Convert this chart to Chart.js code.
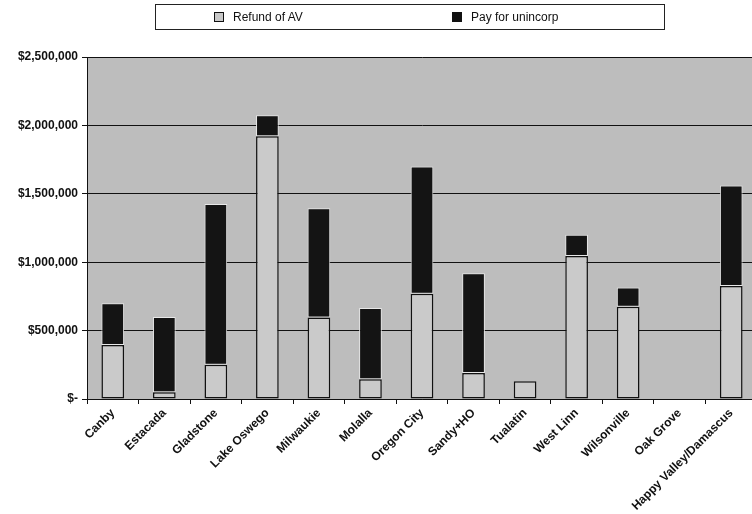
<!DOCTYPE html>
<html>
<head>
<meta charset="utf-8">
<script src="https://cdn.jsdelivr.net/npm/chart.js@4.4.0/dist/chart.umd.min.js"></script>
<style>
  html, body { margin:0; padding:0; background:#fff; overflow:hidden; }
  #wrap { position:relative; width:752px; height:514px; overflow:hidden; }
  #cv { position:absolute; left:0; top:0; }
  #legend { position:absolute; left:155px; top:4px; width:510px; height:26px; border:1px solid #222; box-sizing:border-box;
            font-family:"Liberation Sans", Arial, sans-serif; font-size:12px; color:#111; }
  .li { position:absolute; top:5px; white-space:nowrap; }
  .sw { display:inline-block; width:8px; height:8px; border:1px solid #111; margin-right:9px; vertical-align:-1px; }
</style>
</head>
<body>
<div id="wrap">
  <canvas id="cv" width="757" height="514"></canvas>
  <div id="legend">
    <span class="li" style="left:58px"><span class="sw" style="background:#c8c8c8"></span>Refund of AV</span>
    <span class="li" style="left:296px"><span class="sw" style="background:#111"></span>Pay for unincorp</span>
  </div>
</div>
<script>
const categories = ["Canby","Estacada","Gladstone","Lake Oswego","Milwaukie","Molalla","Oregon City","Sandy+HO","Tualatin","West Linn","Wilsonville","Oak Grove","Happy Valley/Damascus"];
const refundOfAV = [395000, 50000, 250000, 1920000, 595000, 145000, 770000, 190000, 130000, 1045000, 675000, 0, 826000];
const payForUnincorp = [305000, 550000, 1175000, 155000, 800000, 520000, 930000, 730000, 0, 155000, 140000, 0, 734000];
const yTickLabels = {0:"$-", 500000:"$500,000", 1000000:"$1,000,000", 1500000:"$1,500,000", 2000000:"$2,000,000", 2500000:"$2,500,000"};

const plotBg = {
  id:'plotBg',
  beforeDraw(chart){
    const {ctx, chartArea:a} = chart;
    ctx.save();
    ctx.fillStyle = '#bdbdbd';
    ctx.fillRect(a.left, a.top, a.right - a.left, a.bottom - a.top);
    ctx.restore();
  }
};

const font = {family:'"Liberation Sans", Arial, sans-serif', size:12, weight:'bold'};

new Chart(document.getElementById('cv'), {
  type:'bar',
  data:{
    labels: categories,
    datasets:[
      {label:'Refund of AV', data: refundOfAV, backgroundColor:'#cacaca', borderColor:'#111', borderWidth:1.5, borderSkipped:false},
      {label:'Pay for unincorp', data: payForUnincorp, backgroundColor:'#141414', borderColor:'#e8e8e8', borderWidth:1, borderSkipped:false}
    ]
  },
  options:{
    responsive:false,
    animation:false,
    layout:{padding:{top:57, right:0, bottom:0, left:0}},
    datasets:{bar:{categoryPercentage:0.88, barPercentage:0.5}},
    plugins:{legend:{display:false}, tooltip:{enabled:false}},
    scales:{
      x:{
        stacked:true,
        afterFit(s){ s.height = 115; },
        grid:{display:true, drawOnChartArea:false, drawTicks:true, tickLength:5, color:'#111', offset:true},
        border:{display:true, color:'#111', width:1},
        ticks:{font, color:'#111', minRotation:45, maxRotation:45, autoSkip:false, padding:2}
      },
      y:{
        stacked:true,
        min:0, max:2500000,
        afterFit(s){ s.width = 87; },
        grid:{color:'#111', lineWidth:1, drawTicks:true, tickLength:5},
        border:{display:true, color:'#111', width:1},
        ticks:{font, color:'#111', stepSize:500000, padding:4, callback:(v)=>yTickLabels[v]}
      }
    }
  },
  plugins:[plotBg]
});
</script>
</body>
</html>
